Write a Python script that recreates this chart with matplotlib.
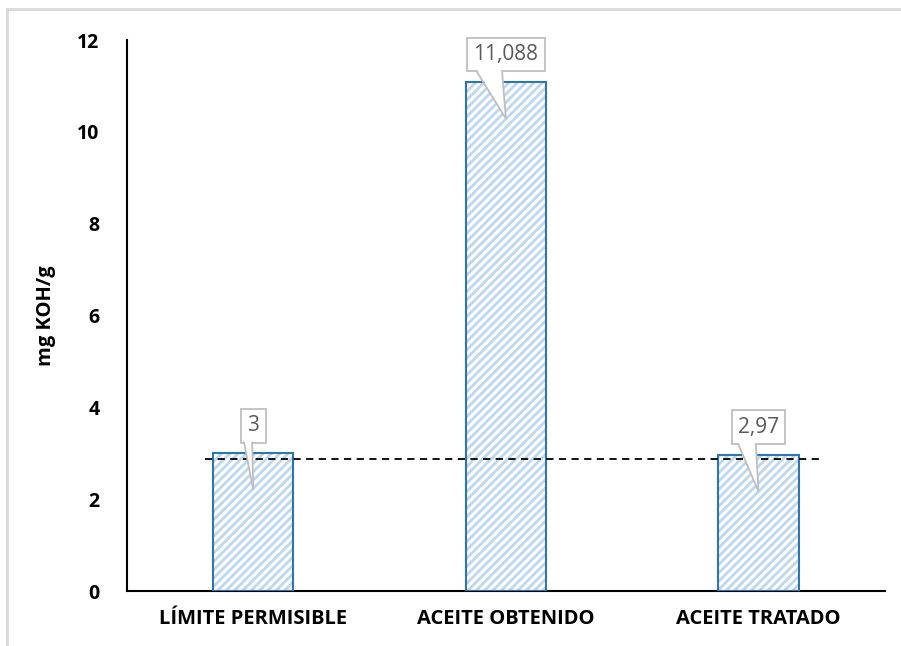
import matplotlib.pyplot as plt
from matplotlib.lines import Line2D
from matplotlib.patches import Polygon

# Data
categories = ["LÍMITE PERMISIBLE", "ACEITE OBTENIDO", "ACEITE TRATADO"]
values = [3, 11.088, 2.97]
value_labels = ["3", "11,088", "2,97"]
reference_level = 2.87
y_ticks = [0, 2, 4, 6, 8, 10, 12]

plt.rcParams["font.family"] = ["Open Sans", "DejaVu Sans"]
plt.rcParams["hatch.linewidth"] = 2.0

fig = plt.figure(figsize=(9.01, 6.46), dpi=100)
ax = fig.add_axes([0.141, 0.085, 0.841, 0.853])

x = list(range(len(categories)))
bar_w = 0.317

# hatched fill (light blue stripes) and the blue outline on top
ax.bar(x, values, width=bar_w, color="white", edgecolor="#BDD7EE",
       hatch="////", linewidth=0, zorder=2)
ax.bar(x, values, width=bar_w, color="none", edgecolor="#2E75B6",
       linewidth=1.5, zorder=3)

# dashed reference line
ax.plot([-0.19, 2.26], [reference_level, reference_level], color="black",
        linestyle=(0, (4, 3)), linewidth=1.3, zorder=4)

ax.set_xlim(-0.5, 2.5)
ax.set_ylim(0, 12)

# callout labels: box first, then the pointer below it
texts = []
for xi, v, lab in zip(x, values, value_labels):
    t = ax.text(xi, v + 0.6, lab, ha="center", va="center", fontsize=15,
                color="#595959", zorder=6,
                bbox=dict(boxstyle="square,pad=0.3", fc="white",
                          ec="#BFBFBF", lw=1.3))
    texts.append(t)

fig.canvas.draw()
inv = ax.transData.inverted()
for t, xi, v in zip(texts, x, values):
    ext = t.get_bbox_patch().get_window_extent()
    (x0, y0), (x1, y1) = inv.transform([(ext.x0, ext.y0), (ext.x1, ext.y1)])
    w = x1 - x0
    bl = x0 + 0.12 * w
    br = x0 + 0.45 * w
    tip = (xi, v - 0.8)
    fill = Polygon([(bl, y0 + 0.05), tip, (br, y0 + 0.05)], closed=True,
                   fc="white", ec="none", zorder=7)
    ax.add_patch(fill)
    ax.plot([bl, tip[0], br], [y0, tip[1], y0], color="#BFBFBF", lw=1.3,
            zorder=7, solid_joinstyle="miter")

ax.set_yticks(y_ticks)
ax.set_yticklabels([str(t) for t in y_ticks], fontsize=14, fontweight="bold")
ax.set_xticks(x)
ax.set_xticklabels(categories, fontsize=14.5, fontweight="bold")
ax.tick_params(axis="y", length=0, pad=20)
ax.tick_params(axis="x", length=0, pad=13)
ax.set_ylabel("mg KOH/g", fontsize=14.5, fontweight="bold", labelpad=15)

for side in ["top", "right"]:
    ax.spines[side].set_visible(False)
for side in ["left", "bottom"]:
    ax.spines[side].set_linewidth(1.5)
    ax.spines[side].set_color("black")

# light chart-area frame (top and left edges visible)
fig.add_artist(Line2D([0.0078, 1.0], [0.986, 0.986], color="#D9D9D9",
                      lw=2, transform=fig.transFigure))
fig.add_artist(Line2D([0.0078, 0.0078], [0.0, 0.986], color="#D9D9D9",
                      lw=2, transform=fig.transFigure))

fig.savefig("out.png", dpi=100)
